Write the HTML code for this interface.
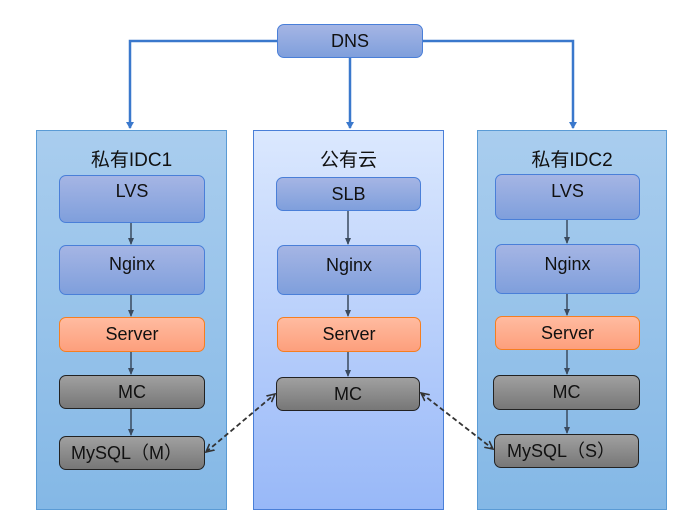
<!DOCTYPE html>
<html><head><meta charset="utf-8"><style>
body{margin:0;width:699px;height:530px;background:#fff;position:relative;overflow:hidden;font-family:"Liberation Sans","Noto Sans CJK SC",sans-serif;}
.c{position:absolute;box-sizing:border-box;}
.cont{border:1px solid #5a9bd5;}
.side{background:linear-gradient(#a9cdee,#84b8e6);}
.mid{background:linear-gradient(#dbe8fe,#98b8f8);border-color:#4a7fd8;}
.t{position:absolute;left:0;right:0;text-align:center;font-size:19px;color:#111;top:14px;}
.b{position:absolute;box-sizing:border-box;border-radius:7px;text-align:center;font-size:18px;color:#111;}
.bl{background:linear-gradient(#a5b5e4,#7f9fdc);border:1px solid #4a7fd8;}
.or{background:linear-gradient(#ffbba0,#fd9f7c);border:1px solid #f57e20;}
.gr{background:linear-gradient(#a0a0a0,#777);border:1px solid #222;}
</style></head><body>
<div class="c cont side" style="left:36px;top:130px;width:191px;height:380px"><div class="t">私有IDC1</div></div>
<div class="c cont mid" style="left:253px;top:130px;width:191px;height:380px"><div class="t">公有云</div></div>
<div class="c cont side" style="left:477px;top:130px;width:190px;height:380px"><div class="t">私有IDC2</div></div>

<div class="b bl" style="left:277px;top:24px;width:146px;height:34px;line-height:33px">DNS</div>

<div class="b bl" style="left:59px;top:175px;width:146px;height:48px;line-height:30px">LVS</div>
<div class="b bl" style="left:59px;top:245px;width:146px;height:50px;line-height:36px">Nginx</div>
<div class="b or" style="left:59px;top:317px;width:146px;height:35px;line-height:33px">Server</div>
<div class="b gr" style="left:59px;top:375px;width:146px;height:34px;line-height:32px">MC</div>
<div class="b gr" style="left:59px;top:436px;width:146px;height:34px;line-height:32px;text-align:left;padding-left:11px">MySQL（M）</div>

<div class="b bl" style="left:276px;top:177px;width:145px;height:34px;line-height:33px">SLB</div>
<div class="b bl" style="left:277px;top:245px;width:144px;height:50px;line-height:38px">Nginx</div>
<div class="b or" style="left:277px;top:317px;width:144px;height:35px;line-height:33px">Server</div>
<div class="b gr" style="left:276px;top:377px;width:144px;height:34px;line-height:33px">MC</div>

<div class="b bl" style="left:495px;top:174px;width:145px;height:46px;line-height:32px">LVS</div>
<div class="b bl" style="left:495px;top:244px;width:145px;height:50px;line-height:38px">Nginx</div>
<div class="b or" style="left:495px;top:316px;width:145px;height:34px;line-height:32px">Server</div>
<div class="b gr" style="left:493px;top:375px;width:147px;height:35px;line-height:33px">MC</div>
<div class="b gr" style="left:494px;top:434px;width:145px;height:34px;line-height:33px;text-align:left;padding-left:12px">MySQL（S）</div>

<svg width="699" height="530" style="position:absolute;left:0;top:0">
<defs>
<marker id="ab" markerWidth="8" markerHeight="8" refX="6" refY="4" orient="auto" markerUnits="userSpaceOnUse"><path d="M0,0 L7,4 L0,8z" fill="#3a78cc"/></marker>
<marker id="ad" markerWidth="8" markerHeight="8" refX="6" refY="4" orient="auto" markerUnits="userSpaceOnUse"><path d="M0,1 L7,4 L0,7z" fill="#3a4a5e"/></marker>
<marker id="ao" markerWidth="10" markerHeight="10" refX="8" refY="5" orient="auto-start-reverse" markerUnits="userSpaceOnUse"><path d="M0,1 L8,5 L0,9" fill="none" stroke="#333" stroke-width="1.6"/></marker>
</defs>
<g stroke="#3a78cc" stroke-width="2.5" fill="none">
<path d="M277,41 H130 V128" marker-end="url(#ab)"/>
<path d="M350,58 V128" marker-end="url(#ab)"/>
<path d="M423,41 H573 V128" marker-end="url(#ab)"/>
</g>
<g stroke="#3a4a5e" stroke-width="1.5" fill="none" marker-end="url(#ad)">
<path d="M131,223 V244"/><path d="M131,295 V316"/><path d="M131,352 V374"/><path d="M131,409 V435"/>
<path d="M348,211 V244"/><path d="M348,295 V316"/><path d="M348,352 V376"/>
<path d="M567,220 V243"/><path d="M567,294 V315"/><path d="M567,350 V374"/><path d="M567,410 V433"/>
</g>
<g stroke="#333" stroke-width="1.8" fill="none" stroke-dasharray="5,3">
<path d="M206,452 L275,394" marker-start="url(#ao)" marker-end="url(#ao)"/>
<path d="M421,393 L493,449" marker-start="url(#ao)" marker-end="url(#ao)"/>
</g>
</svg>
</body></html>
